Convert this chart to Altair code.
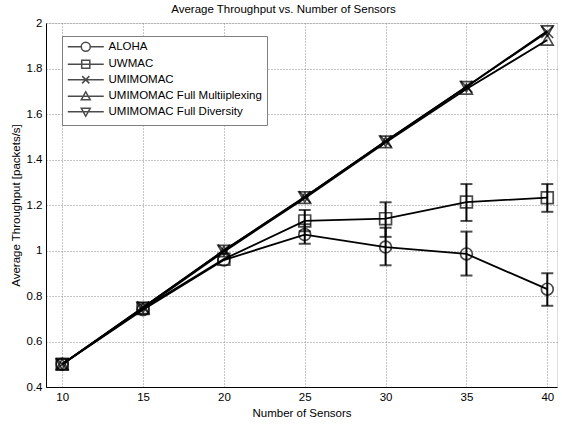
import altair as alt
import pandas as pd

sensors = [10, 15, 20, 25, 30, 35, 40]
series_names = ["ALOHA", "UWMAC", "UMIMOMAC",
                "UMIMOMAC Full Multiiplexing", "UMIMOMAC Full Diversity"]

aloha = [0.50, 0.74, 0.958, 1.07, 1.015, 0.985, 0.83]
aloha_lo = [0.50, 0.74, 0.958, 1.03, 0.935, 0.89, 0.757]
aloha_hi = [0.50, 0.74, 0.958, 1.115, 1.10, 1.083, 0.90]

uwmac = [0.50, 0.745, 0.962, 1.13, 1.14, 1.213, 1.232]
uwmac_lo = [0.50, 0.745, 0.962, 1.085, 1.06, 1.13, 1.17]
uwmac_hi = [0.50, 0.745, 0.962, 1.178, 1.212, 1.292, 1.292]

umimomac = [0.50, 0.75, 1.00, 1.235, 1.48, 1.72, 1.96]
full_mux = [0.50, 0.745, 0.995, 1.23, 1.475, 1.71, 1.925]
full_div = [0.50, 0.75, 1.00, 1.235, 1.48, 1.72, 1.965]

y_ticks = [0.4, 0.6, 0.8, 1.0, 1.2, 1.4, 1.6, 1.8, 2.0]

all_vals = [aloha, uwmac, umimomac, full_mux, full_div]
all_lo = [aloha_lo, uwmac_lo, umimomac, full_mux, full_div]
all_hi = [aloha_hi, uwmac_hi, umimomac, full_mux, full_div]

rows = []
for name, vals, lo, hi in zip(series_names, all_vals, all_lo, all_hi):
    for s, v, l, h in zip(sensors, vals, lo, hi):
        rows.append({"sensors": s, "series": name, "value": v, "lo": l, "hi": h})
df = pd.DataFrame(rows)

FONT = "Liberation Sans"
x_scale = alt.Scale(domain=[9, 40.6], nice=False, zero=False)
y_scale = alt.Scale(domain=[0.4, 2], nice=False, zero=False)

common_axis = dict(grid=True, gridDash=[1, 2], gridColor="#8c8c8c", gridWidth=1,
                   ticks=False, domainColor="black", domainWidth=1,
                   labelColor="black", labelFont=FONT, labelFontSize=11.5,
                   titleFont=FONT, titleFontSize=11.5, titleFontWeight="normal",
                   titleColor="black")

x_enc = alt.X("sensors:Q", scale=x_scale,
              axis=alt.Axis(values=sensors, title="Number of Sensors",
                            labelPadding=4, titlePadding=5, **common_axis))
y_enc = alt.Y("value:Q", scale=y_scale,
              axis=alt.Axis(values=y_ticks,
                            labelExpr="format(datum.value, '.1~f')",
                            title="Average Throughput [packets/s]",
                            labelPadding=4, titlePadding=5, **common_axis))

base = alt.Chart(df)

lines = base.mark_line(color="black").encode(
    x=x_enc, y=y_enc, detail="series:N",
    strokeWidth=alt.StrokeWidth("series:N",
                                scale=alt.Scale(domain=series_names,
                                                range=[1.8, 1.8, 2.0, 2.0, 2.0]),
                                legend=None),
)

err_data = base.transform_filter("datum.hi > datum.lo")
err_rules = err_data.mark_rule(color="black", strokeWidth=2).encode(
    x="sensors:Q", y="lo:Q", y2="hi:Q")
cap_lo = err_data.mark_tick(color="black", orient="horizontal", size=12,
                            thickness=2).encode(x="sensors:Q", y="lo:Q")
cap_hi = err_data.mark_tick(color="black", orient="horizontal", size=12,
                            thickness=2).encode(x="sensors:Q", y="hi:Q")

point_shapes = ["circle", "square", "M-1,-1L1,1M-1,1L1,-1",
                "triangle-up", "triangle-down"]
points = base.mark_point(filled=False, color="black", strokeWidth=1.7,
                         size=140).encode(
    x="sensors:Q", y="value:Q",
    shape=alt.Shape("series:N", scale=alt.Scale(domain=series_names,
                                                 range=point_shapes),
                    legend=None),
)

legend_shapes = [
    "M-4,0H-1M1,0H4M1,0A1,1 0 1,1 -1,0A1,1 0 1,1 1,0",
    "M-4,0H4M-0.9,-0.9H0.9V0.9H-0.9Z",
    "M-4,0H4M-0.8,-0.8L0.8,0.8M-0.8,0.8L0.8,-0.8",
    "M-4,0H4M0,-1L1,0.8H-1Z",
    "M-4,0H4M0,1L1,-0.8H-1Z",
]
legend_layer = base.transform_filter("datum.value < 0").mark_point(
    filled=False, color="black", strokeWidth=1.5).encode(
    x="sensors:Q", y="value:Q",
    shape=alt.Shape("series:N",
                    scale=alt.Scale(domain=series_names, range=legend_shapes),
                    sort=series_names,
                    legend=alt.Legend(orient="none", legendX=16, legendY=13,
                                      title=None, strokeColor="#808080",
                                      fillColor="white", padding=5,
                                      labelFont=FONT, labelFontSize=11.5,
                                      labelColor="black", labelLimit=400,
                                      symbolSize=81,
                                      symbolStrokeWidth=1.5,
                                      symbolStrokeColor="black",
                                      symbolOffset=13, labelOffset=17,
                                      rowPadding=1.5)),
)

chart = alt.layer(lines, err_rules, cap_lo, cap_hi, points, legend_layer).resolve_scale(
    shape="independent"
).properties(
    width=511, height=364,
    padding={"left": 46, "top": 23, "right": 5, "bottom": 37},
    autosize=alt.AutoSizeParams(type="none"),
    title=alt.TitleParams("Average Throughput vs. Number of Sensors", font=FONT,
                          fontSize=11.5, fontWeight="normal", color="black",
                          offset=2, dx=-18),
).configure_view(stroke=None).configure(background="white")

chart.save("out.html", embed_options={"renderer": "svg", "actions": False})
